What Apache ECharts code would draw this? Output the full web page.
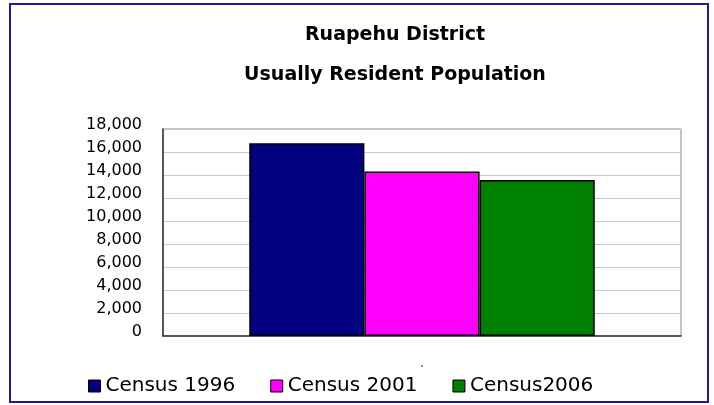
<!DOCTYPE html>
<html>
<head>
<meta charset="utf-8">
<script src="https://cdn.jsdelivr.net/npm/echarts@6/dist/echarts.min.js"></script>
<style>
  html, body { margin: 0; padding: 0; background: #fff; }
  #chart { width: 714px; height: 405px; }
</style>
</head>
<body>
<div id="chart"></div>
<script>
const categories = ['.']
const seriesNames = ['Census 1996', 'Census 2001', 'Census2006']
const seriesValues = [[16760], [14310], [13570]]
const seriesColors = ['#000080', '#ff00ff', '#008000']
const yTicks = { min: 0, max: 18000, interval: 2000 }

const font = '"DejaVu Sans", sans-serif'
const chart = echarts.init(document.getElementById('chart'))

chart.setOption({
  animation: false,
  textStyle: { fontFamily: font, color: '#000' },
  graphic: [{
    type: 'rect',
    shape: { x: 10, y: 4, width: 698, height: 398 },
    style: { fill: 'none', stroke: '#1c1c99', lineWidth: 2 },
    z: 100
  }],
  title: {
    text: 'Ruapehu District\nUsually Resident Population',
    left: 390,
    textAlign: 'center',
    top: 10,
    textStyle: { fontFamily: font, fontSize: 19, fontWeight: 'bold', lineHeight: 40, color: '#000' }
  },
  legend: {
    data: seriesNames,
    icon: 'rect',
    left: 83,
    top: 371,
    itemWidth: 12,
    itemHeight: 12,
    itemGap: 35,
    itemStyle: { borderColor: '#000', borderWidth: 1 },
    textStyle: { fontFamily: font, fontSize: 20, color: '#000' }
  },
  grid: {
    left: 163, right: 33, top: 129, bottom: 69,
    show: true, borderColor: '#888', borderWidth: 1
  },
  xAxis: {
    type: 'category',
    data: categories,
    axisLine: { lineStyle: { color: '#333', width: 1.5 } },
    axisTick: { show: false },
    axisLabel: { fontSize: 14, margin: 20 }
  },
  yAxis: {
    type: 'value',
    min: yTicks.min, max: yTicks.max, interval: yTicks.interval,
    axisLine: { show: true, lineStyle: { color: '#333', width: 1.5 } },
    axisTick: { show: false },
    splitLine: { lineStyle: { color: '#c8c8c8', width: 1 } },
    axisLabel: {
      fontSize: 16, margin: 21, color: '#000',
      verticalAlign: 'bottom',
      lineHeight: 8,
      formatter: v => v.toLocaleString('en-US')
    }
  },
  series: seriesNames.map((name, i) => ({
    name,
    type: 'bar',
    data: seriesValues[i],
    barGap: '0%',
    barCategoryGap: '33.3%',
    itemStyle: { color: seriesColors[i], borderColor: '#000', borderWidth: 1.5 }
  }))
})
</script>
</body>
</html>
